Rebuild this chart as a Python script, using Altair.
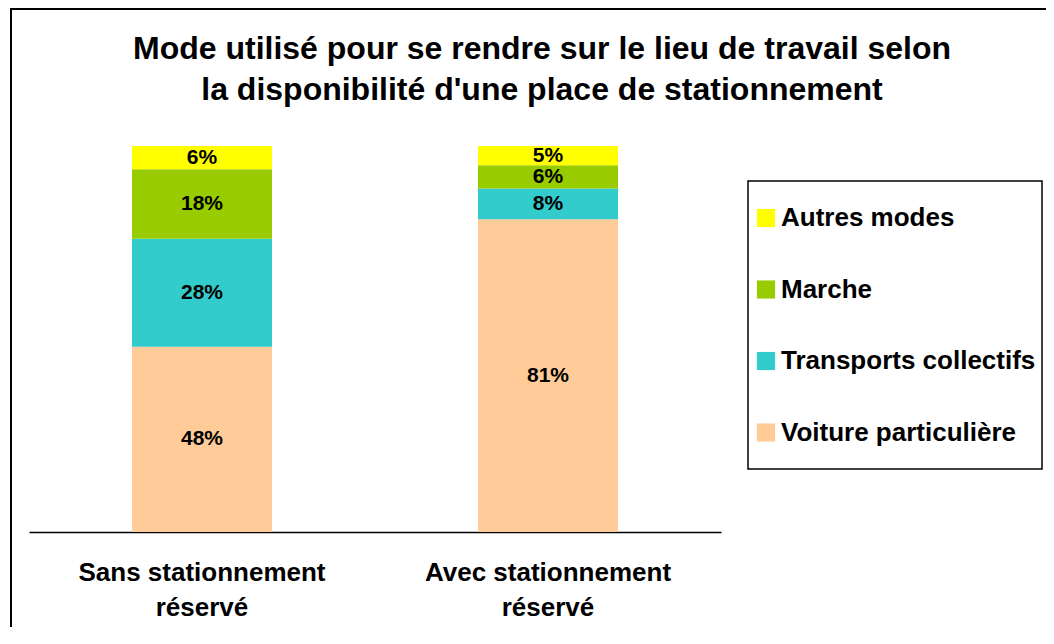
import altair as alt
import pandas as pd

categories = ["Sans stationnement\nréservé", "Avec stationnement\nréservé"]
modes = ["Voiture particulière", "Transports collectifs", "Marche", "Autres modes"]
sans_values = [48, 28, 18, 6]
avec_values = [81, 8, 6, 5]
legend_order = ["Autres modes", "Marche", "Transports collectifs", "Voiture particulière"]
colors = ["#FFFF00", "#99CC00", "#33CCCC", "#FFCC99"]
title_lines = ["Mode utilisé pour se rendre sur le lieu de travail selon",
               "la disponibilité d'une place de stationnement"]

rows = []
for cat, vals in zip(categories, [sans_values, avec_values]):
    for i, (m, v) in enumerate(zip(modes, vals)):
        rows.append({"cat": cat, "mode": m, "value": v, "ord": i})
df = pd.DataFrame(rows)

FONT = "Liberation Sans"

base = alt.Chart(df).transform_stack(
    stack="value", groupby=["cat"], as_=["y0", "y1"],
    sort=[alt.SortField("ord", order="ascending")]
).transform_calculate(mid="(datum.y0 + datum.y1) / 2", lab="datum.value + '%'")

xenc = alt.X("cat:N", sort=categories, title=None,
             scale=alt.Scale(paddingInner=0, paddingOuter=0),
             axis=alt.Axis(labelAngle=0, labelFont=FONT, labelFontSize=26,
                           labelFontWeight="bold", labelColor="#000",
                           labelExpr="split(datum.label, '\\n')", labelLineHeight=35,
                           labelPadding=27, labelLimit=500, ticks=False,
                           domainColor="#000", domainWidth=1.5, grid=False))

yscale = alt.Scale(domain=[0, 100])

bars = base.mark_bar(size=140).encode(
    x=xenc,
    y=alt.Y("y0:Q", scale=yscale, axis=None),
    y2="y1:Q",
    color=alt.Color("mode:N", scale=alt.Scale(domain=legend_order, range=colors),
                    legend=alt.Legend(title=None, orient="none", legendX=724, legendY=59,
                                      symbolType="square", symbolSize=330,
                                      symbolStrokeWidth=0, labelFont=FONT,
                                      labelFontSize=26, labelFontWeight="bold",
                                      labelColor="#000", rowPadding=45.5, padding=0,
                                      labelOffset=2, labelLimit=400)),
)

texts = base.mark_text(font=FONT, fontSize=21, fontWeight="bold", color="#000",
                       baseline="middle").encode(
    x=alt.X("cat:N", sort=categories),
    y=alt.Y("mid:Q", scale=yscale, axis=None),
    text="lab:N",
)

one = pd.DataFrame({"a": [0]})

title1 = alt.Chart(one).mark_text(
    text=title_lines[0], font=FONT, fontSize=32, fontWeight="bold", color="#000",
    align="center", baseline="alphabetic").encode(x=alt.value(513), y=alt.value(-87))
title2 = alt.Chart(one).mark_text(
    text=title_lines[1], font=FONT, fontSize=32, fontWeight="bold", color="#000",
    align="center", baseline="alphabetic").encode(x=alt.value(513), y=alt.value(-46))

frame_box = alt.Chart(one).mark_rect(
    fill=None, stroke="#000", strokeWidth=2).encode(
    x=alt.value(-18), x2=alt.value(1100), y=alt.value(-137), y2=alt.value(700))

legend_box = alt.Chart(one).mark_rect(
    fill=None, stroke="#000", strokeWidth=1.5).encode(
    x=alt.value(719), x2=alt.value(1013), y=alt.value(35), y2=alt.value(323))

chart = alt.layer(frame_box, bars, texts, legend_box, title1, title2).properties(
    width=692, height=386,
    background="white",
    autosize=alt.AutoSizeParams(type="none"),
    padding={"left": 21, "top": 138, "right": 325, "bottom": 95},
).configure_view(stroke="transparent", strokeWidth=0)

chart.save("out.html", embed_options={"renderer": "svg", "actions": False})
